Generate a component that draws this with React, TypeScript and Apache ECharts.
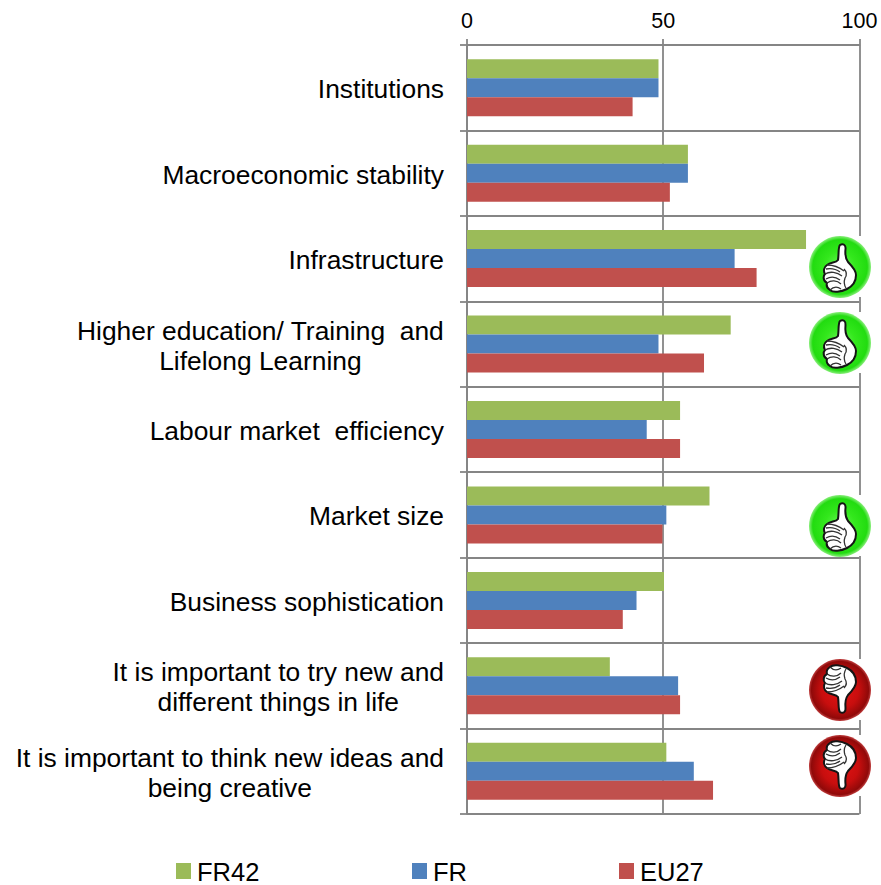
import React, { useEffect, useRef } from "react";
import * as echarts from "echarts";

const categories = [
  "Institutions",
  "Macroeconomic stability",
  "Infrastructure",
  "Higher education/ Training  and\nLifelong Learning",
  "Labour market  efficiency",
  "Market size",
  "Business sophistication",
  "It is important to try new and\ndifferent things in life",
  "It is important to think new ideas and\nbeing creative",
];
const fr42 = [48.8, 56.3, 86.4, 67.2, 54.3, 61.8, 50.2, 36.4, 50.8];
const fr = [48.8, 56.3, 68.2, 48.8, 45.8, 50.8, 43.2, 53.8, 57.8];
const eu27 = [42.2, 51.7, 73.8, 60.4, 54.3, 49.8, 39.7, 54.3, 62.7];
const tickLabels = [0, 50, 100];

const GREEN = "#9BBB59";
const BLUE = "#4F81BD";
const RED = "#C0504D";
const FONT = "Liberation Sans, Arial, sans-serif";

// Closed fist with a raised thumb, in a 64x64 box.
const HAND =
  "M32 9C35 7 38 9 37.5 13C37 18 37 22 40 26C44 30 48 34 48 39C48 45 45 50 39 53C33 56 25 57 22 54C19 52 18 50 19 47C15 45 15 40 17 38C15 35 16 31 19 29C23 26 28 27 30 24C31 18 30 11 32 9Z";
const FINGERS =
  "M17 38C22 35 29 36 34 40M19 47C23 44 29 44 33 48M19 29C25 29 31 31 36 35M22 54C25 51 29 50 33 53M18 33C23 32 28 33 32 36M18 43C23 40 28 41 32 44M36 33C39 36 39 39 37 42C36 45 36 49 38 52";

echarts.graphic.registerShape("hand", echarts.graphic.extendPath(HAND, {}) as any);
echarts.graphic.registerShape("fingers", echarts.graphic.extendPath(FINGERS, {}) as any);

function badge(cx: number, cy: number, up: boolean) {
  const fill = up
    ? [
        { offset: 0, color: "#6CF25A" },
        { offset: 0.5, color: "#33E81C" },
        { offset: 0.88, color: "#22DC10" },
        { offset: 1, color: "#8AEE7C" },
      ]
    : [
        { offset: 0, color: "#E41414" },
        { offset: 0.6, color: "#C80E0E" },
        { offset: 0.92, color: "#900909" },
        { offset: 1, color: "#C04040" },
      ];
  const ox = cx - 32;
  const oy = cy - 31;
  const t = up ? { x: ox, y: oy } : { x: ox, y: oy + 62, scaleY: -1 };
  return [
    { type: "rect", shape: { x: cx - 32, y: cy - 31, width: 64, height: 61 }, style: { fill: "#fff" }, z: 10 },
    {
      type: "circle",
      shape: { cx, cy, r: 31 },
      style: { fill: new echarts.graphic.RadialGradient(0.5, 0.5, 0.5, fill) },
      z: 11,
    },
    { type: "hand", ...t, style: { fill: "#fff", stroke: "#151515", lineWidth: 2 }, z: 12 },
    { type: "fingers", ...t, style: { fill: "none", stroke: "#333", lineWidth: 1.3 }, z: 13 },
  ];
}

const legendItems = [
  { name: "FR42", color: GREEN, x: 176, tx: 197 },
  { name: "FR", color: BLUE, x: 412, tx: 433 },
  { name: "EU27", color: RED, x: 619, tx: 640 },
];

export default function App() {
  const ref = useRef<HTMLDivElement>(null);
  useEffect(() => {
    const chart = echarts.init(ref.current!, undefined, { renderer: "svg" });
    const line = { lineStyle: { color: "#858585", width: 1.8 } };
    const bar = (name: string, data: number[], color: string) => ({
      name,
      type: "bar",
      data,
      barWidth: 19,
      barGap: 0,
      itemStyle: { color },
    });
    chart.setOption({
      animation: false,
      backgroundColor: "#fff",
      textStyle: { fontFamily: FONT },
      grid: { left: 467, top: 45, width: 392.4, height: 769 },
      xAxis: {
        type: "value",
        position: "top",
        min: 0,
        max: 100,
        interval: 50,
        axisLine: { show: true, ...line },
        axisTick: { show: true, length: 6, ...line },
        splitLine: { show: true, ...line },
        axisLabel: {
          color: "#000",
          fontSize: 21.5,
          margin: 13,
          fontFamily: FONT,
          formatter: (v: number) => (tickLabels.includes(v) ? String(v) : ""),
        },
      },
      yAxis: {
        type: "category",
        inverse: true,
        data: categories,
        axisLine: { show: true, ...line },
        axisTick: { show: true, length: 7, ...line },
        splitLine: { show: true, ...line },
        axisLabel: {
          margin: 23,
          padding: [3, 0, 0, 0],
          // Two-line labels are centred line by line inside a right-aligned block.
          formatter: (v: string) =>
            v
              .split("\n")
              .map((l) => `{c|${l}}`)
              .join("\n"),
          rich: {
            c: {
              color: "#000",
              fontSize: 26.4,
              lineHeight: 30,
              align: "center",
              fontFamily: FONT,
            },
          },
        },
      },
      legend: { show: false },
      series: [bar("FR42", fr42, GREEN), bar("FR", fr, BLUE), bar("EU27", eu27, RED)],
      graphic: [
        ...badge(840, 267, true),
        ...badge(840, 343, true),
        ...badge(840, 526, true),
        ...badge(840, 690, false),
        ...badge(840, 766, false),
        ...legendItems.flatMap((d) => [
          { type: "rect", shape: { x: d.x, y: 863, width: 15, height: 16 }, style: { fill: d.color } },
          {
            type: "text",
            x: d.tx,
            y: 859,
            style: { text: d.name, fill: "#000", font: `25.5px ${FONT}` },
          },
        ]),
      ],
    });
    return () => chart.dispose();
  }, []);
  return <div ref={ref} style={{ position: "absolute", left: 0, top: 0, width: 881, height: 885 }} />;
}
